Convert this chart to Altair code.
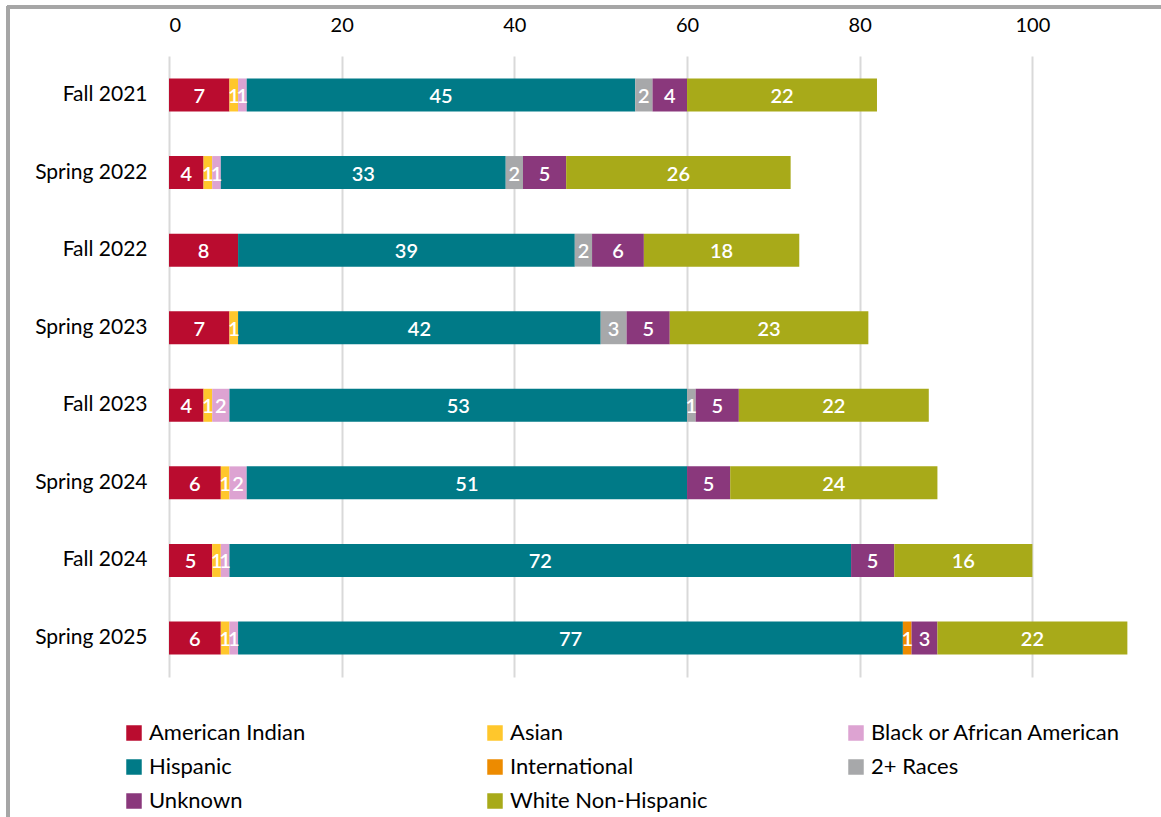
import altair as alt
import pandas as pd

terms = ["Fall 2021", "Spring 2022", "Fall 2022", "Spring 2023",
         "Fall 2023", "Spring 2024", "Fall 2024", "Spring 2025"]
groups = ["American Indian", "Asian", "Black or African American", "Hispanic",
          "International", "2+ Races", "Unknown", "White Non-Hispanic"]
colors = ["#BA0C2F", "#FFC72C", "#DDA3D2", "#007A87",
          "#ED8B00", "#A7A8AA", "#8A387C", "#A8AA19"]

american_indian = [7, 4, 8, 7, 4, 6, 5, 6]
asian = [1, 1, 0, 1, 1, 1, 1, 1]
black = [1, 1, 0, 0, 2, 2, 1, 1]
hispanic = [45, 33, 39, 42, 53, 51, 72, 77]
international = [0, 0, 0, 0, 0, 0, 0, 1]
two_plus = [2, 2, 2, 3, 1, 0, 0, 0]
unknown = [4, 5, 6, 5, 5, 5, 5, 3]
white = [22, 26, 18, 23, 22, 24, 16, 22]

x_ticks = [0, 20, 40, 60, 80, 100]

series = [american_indian, asian, black, hispanic, international, two_plus, unknown, white]
rows = []
for gi, (g, vals) in enumerate(zip(groups, series)):
    for t, v in zip(terms, vals):
        if v > 0:
            rows.append({"term": t, "group": g, "order": gi, "value": v})
df = pd.DataFrame(rows)

FONT = "Lato"

base = alt.Chart(df).transform_stack(
    stack="value", groupby=["term"], as_=["x0", "x1"],
    sort=[alt.SortField("order", order="ascending")]
)

y_enc = alt.Y("term:N", sort=terms, title=None,
              scale=alt.Scale(paddingInner=0.575, paddingOuter=0.29),
              axis=alt.Axis(domain=False, ticks=False, labelFontSize=21,
                            labelPadding=22, labelColor="#000000", labelFont=FONT))

bars = base.mark_bar(size=33).encode(
    x=alt.X("x0:Q", title=None,
            scale=alt.Scale(domain=[0, 112], nice=False, zero=True),
            axis=alt.Axis(orient="top", values=x_ticks, domain=False, ticks=False,
                          grid=True, gridColor="#D9D9D9", gridWidth=2,
                          labelFontSize=20, labelPadding=21, labelColor="#000000",
                          labelFont=FONT)),
    x2="x1:Q",
    y=y_enc,
    color=alt.Color("group:N", sort=groups,
                    scale=alt.Scale(domain=groups, range=colors),
                    legend=alt.Legend(title=None, orient="none", legendX=-46, legendY=666,
                                      columns=3, direction="horizontal",
                                      symbolType="square", symbolSize=240,
                                      symbolStrokeWidth=0, labelFontSize=22,
                                      labelFont=FONT, labelColor="#000000",
                                      labelLimit=400, columnPadding=85,
                                      rowPadding=12, gridAlign="all",
                                      labelOffset=4)),
)

labels = base.transform_calculate(mid="(datum.x0 + datum.x1) / 2").mark_text(
    color="white", fontSize=20, fontWeight=600, font=FONT, baseline="middle", dy=2
).encode(
    x="mid:Q",
    y=alt.Y("term:N", sort=terms),
    text="value:Q",
)

frame_top = alt.Chart(df).mark_rule(color="#A6A6A6", strokeWidth=3.5).encode(
    x=alt.value(-162), x2=alt.value(1000), y=alt.value(-49))
frame_left = alt.Chart(df).mark_rule(color="#A6A6A6", strokeWidth=3.5).encode(
    x=alt.value(-161), y=alt.value(-50), y2=alt.value(770))

chart = alt.layer(frame_top, frame_left, bars, labels).properties(
    width=967, height=621,
    padding={"left": 169, "top": 56, "right": 25, "bottom": 140},
    autosize=alt.AutoSizeParams(type="none"),
    background="white",
).configure_view(stroke=None)

chart.save("out.html", embed_options={"renderer": "svg", "actions": False})
